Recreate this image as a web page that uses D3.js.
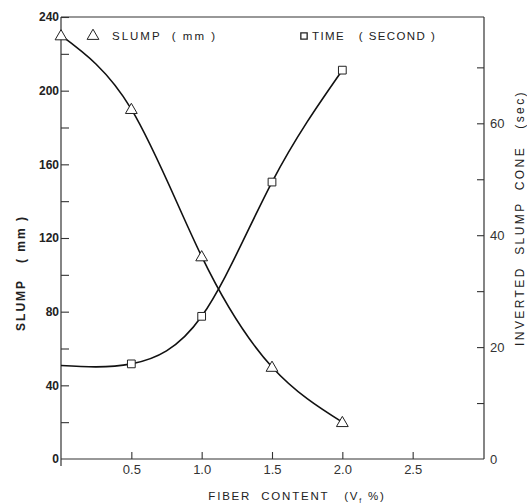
<!DOCTYPE html>
<html>
<head>
<meta charset="utf-8">
<script src="https://cdnjs.cloudflare.com/ajax/libs/d3/7.8.5/d3.min.js"></script>
<style>
  body { margin: 0; background: #fff; }
  svg { display: block; font-family: "Liberation Sans", Arial, sans-serif; }
  text { white-space: pre; }
  .lbl { fill: #222; }
</style>
</head>
<body>
<script>

// data
var fiberContent = [0, 0.5, 1.0, 1.5, 2.0];
var slumpMm = [230, 190, 110, 50, 20];
var timeFiber = [0.5, 1.0, 1.5, 2.0];
var timeSec = [17, 25.5, 49.5, 69.5];
var timeAtZero = 16.7;   // curve starts here, no marker drawn

var xTicks = [0.5, 1.0, 1.5, 2.0, 2.5];
var leftTicks = [0, 40, 80, 120, 160, 200, 240];
var leftMinor = [20, 60, 100, 140, 180, 220];
var rightTicks = [0, 20, 40, 60];
var rightMinor = [10, 30, 50, 70];

var width = 527,
    height = 504,
    pLeft = 61, pRight = 484, pTop = 17, pBottom = 459;

var x = d3.scaleLinear().domain([0, 3]).range([pLeft, pRight - 1]);
var yL = d3.scaleLinear().domain([0, 240]).range([pBottom, pTop]);
var yR = d3.scaleLinear().domain([0, 79]).range([pBottom, pTop]);

var svg = d3.select("body").append("svg")
    .attr("width", width)
    .attr("height", height);

// frame lines
svg.append("line").attr("x1", pLeft).attr("x2", pRight).attr("y1", pTop).attr("y2", pTop)
    .attr("stroke", "#333").attr("stroke-width", 1.2);

// left axis
var gL = svg.append("g").attr("transform", "translate(" + pLeft + ",0)");
gL.call(d3.axisLeft(yL).tickValues(leftTicks).tickSize(-8).tickFormat(d3.format("d")));
gL.selectAll(".tick").filter(function(d) { return d === 0; }).select("line").remove();
gL.selectAll(".tick text").attr("font-size", 12).attr("font-weight", "bold").attr("fill", "#222").attr("x", -2);
svg.append("g").attr("transform", "translate(" + pLeft + ",0)")
    .call(d3.axisLeft(yL).tickValues(leftMinor).tickSize(-8).tickFormat(""));
svg.append("line").attr("x1", pLeft).attr("x2", pLeft).attr("y1", pTop).attr("y2", pBottom + 7)
    .attr("stroke", "#333").attr("stroke-width", 1.2);

// right axis
var gR = svg.append("g").attr("transform", "translate(" + pRight + ",0)");
gR.call(d3.axisRight(yR).tickValues(rightTicks).tickSize(-7).tickFormat(d3.format("d")));
gR.selectAll(".tick").filter(function(d) { return d === 0; }).select("line").remove();
gR.selectAll(".tick text").attr("font-size", 13).attr("fill", "#333").attr("x", 6);
svg.append("g").attr("transform", "translate(" + pRight + ",0)")
    .call(d3.axisRight(yR).tickValues(rightMinor).tickSize(-7).tickFormat(""));

// bottom axis
var gB = svg.append("g").attr("transform", "translate(0," + pBottom + ")");
gB.call(d3.axisBottom(x).tickValues(xTicks).tickSize(-7).tickPadding(6).tickFormat(d3.format(".1f")));
gB.selectAll(".tick text").attr("font-size", 13).attr("fill", "#333");

svg.selectAll(".domain").remove();
svg.selectAll(".tick line").attr("stroke", "#333").attr("stroke-width", 1.1);
svg.append("line").attr("x1", pLeft).attr("x2", pRight).attr("y1", pBottom).attr("y2", pBottom)
    .attr("stroke", "#333").attr("stroke-width", 1.2);
svg.append("line").attr("x1", pRight).attr("x2", pRight).attr("y1", pTop).attr("y2", pBottom)
    .attr("stroke", "#333").attr("stroke-width", 1.2);

// curves
var slumpLine = d3.line()
    .x(function(d) { return x(d[0]); })
    .y(function(d) { return yL(d[1]); })
    .curve(d3.curveNatural);
var timeLine = d3.line()
    .x(function(d) { return x(d[0]); })
    .y(function(d) { return yR(d[1]); })
    .curve(d3.curveNatural);

var slumpPts = fiberContent.map(function(f, i) { return [f, slumpMm[i]]; });
var timePts = [[0, timeAtZero]].concat(timeFiber.map(function(f, i) { return [f, timeSec[i]]; }));

svg.append("path").attr("d", slumpLine(slumpPts))
    .attr("fill", "none").attr("stroke", "#111").attr("stroke-width", 1.6);
svg.append("path").attr("d", timeLine(timePts))
    .attr("fill", "none").attr("stroke", "#111").attr("stroke-width", 1.6);

var tri = d3.symbol().type(d3.symbolTriangle).size(60);
var sq = d3.symbol().type(d3.symbolSquare).size(60);

svg.selectAll(".tri")
    .data(slumpPts)
    .enter().append("path")
        .attr("class", "tri")
        .attr("d", tri)
        .attr("transform", function(d) { return "translate(" + x(d[0]) + "," + (yL(d[1]) + 1) + ")"; })
        .attr("fill", "#fff").attr("stroke", "#222").attr("stroke-width", 1);

svg.selectAll(".sq")
    .data(timePts.slice(1))
    .enter().append("path")
        .attr("class", "sq")
        .attr("d", sq)
        .attr("transform", function(d) { return "translate(" + x(d[0]) + "," + yR(d[1]) + ")"; })
        .attr("fill", "#fff").attr("stroke", "#222").attr("stroke-width", 1);

// legend
svg.append("path").attr("d", tri).attr("transform", "translate(93,36)")
    .attr("fill", "#fff").attr("stroke", "#222").attr("stroke-width", 1);
svg.append("text").attr("class", "lbl").attr("x", 112).attr("y", 40)
    .attr("font-size", 11.5).attr("letter-spacing", 2)
    .text("SLUMP  ( mm )");
svg.append("path").attr("d", d3.symbol().type(d3.symbolSquare).size(40)).attr("transform", "translate(304,36)")
    .attr("fill", "#fff").attr("stroke", "#222").attr("stroke-width", 1.3);
svg.append("text").attr("class", "lbl").attr("x", 312).attr("y", 40)
    .attr("font-size", 11.5).attr("letter-spacing", 1.4)
    .text("TIME   ( SECOND )");

// axis titles
var xt = svg.append("text").attr("class", "lbl")
    .attr("x", 297).attr("y", 500)
    .attr("text-anchor", "middle")
    .attr("font-size", 11.5).attr("letter-spacing", 1.8);
xt.append("tspan").text("FIBER  CONTENT   (V");
xt.append("tspan").attr("font-size", 7).attr("dy", 3).text("f");
xt.append("tspan").attr("dy", -3).text(" %)");

svg.append("text").attr("class", "lbl")
    .attr("transform", "translate(25,273) rotate(-90)")
    .attr("text-anchor", "middle")
    .attr("font-size", 12).attr("font-weight", "bold").attr("letter-spacing", 2)
    .text("SLUMP   ( mm )");

svg.append("text").attr("class", "lbl")
    .attr("transform", "translate(524,218) rotate(-90)")
    .attr("text-anchor", "middle")
    .attr("font-size", 12).attr("letter-spacing", 2.4)
    .text("INVERTED  SLUMP  CONE   (sec)");

</script>
</body>
</html>
